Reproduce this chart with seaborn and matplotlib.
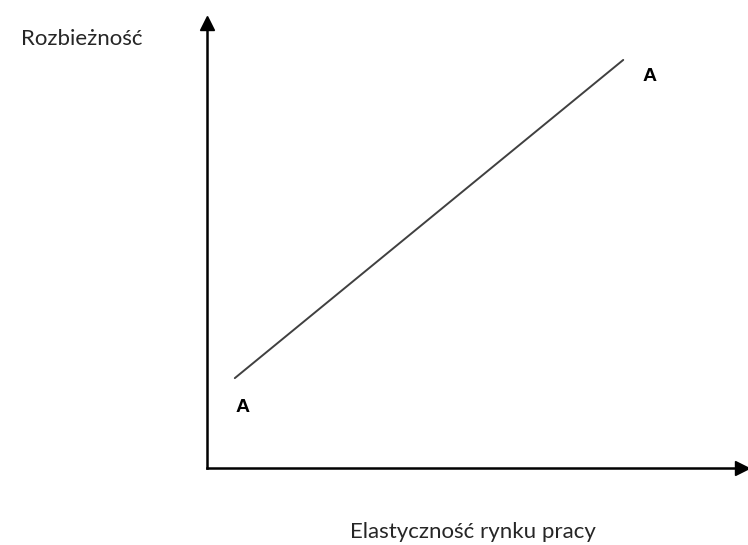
import matplotlib
matplotlib.use("Agg")
import matplotlib.pyplot as plt
import seaborn as sns
import pandas as pd

# Dane wykresu
elastycznosc = [0.52, 7.78]
rozbieznosc = [2.02, 9.17]
punkty_x = [0.67, 8.28]
punkty_y = [1.35, 8.79]
etykiety = ["A", "A"]

sns.set_style("white")
plt.rcParams['font.family'] = ['Lato', 'DejaVu Sans']

fig = plt.figure(figsize=(7.48, 5.45), dpi=100)
ax = fig.add_axes([207 / 748, 77 / 545, 535 / 748, 445 / 545])

df = pd.DataFrame({"x": elastycznosc, "y": rozbieznosc})
sns.lineplot(data=df, x="x", y="y", ax=ax, color="#404040", linewidth=1.4)

for x, y, t in zip(punkty_x, punkty_y, etykiety):
    ax.text(x, y, t, ha="center", va="center", fontsize=14, fontweight="bold",
            family="Liberation Sans", color="black")

ax.set_xlim(0, 10)
ax.set_ylim(0, 10)
ax.set_xticks([])
ax.set_yticks([])
ax.set_xlabel("")
ax.set_ylabel("")
for s in ["top", "right"]:
    ax.spines[s].set_visible(False)
for s in ["left", "bottom"]:
    ax.spines[s].set_linewidth(1.8)
    ax.spines[s].set_color("black")

# Strzałki na osiach
ax.plot(1, 0, ">", color="black", markersize=10, transform=ax.transAxes, clip_on=False)
ax.plot(0, 1, "^", color="black", markersize=10, transform=ax.transAxes, clip_on=False)

fig.text(82 / 748, 1 - 45 / 545, "Rozbieżność", ha="center", va="baseline", fontsize=16)
fig.text(473 / 748, 1 - 538 / 545, "Elastyczność rynku pracy", ha="center", va="baseline", fontsize=16)

fig.savefig("out.png", dpi=100)
